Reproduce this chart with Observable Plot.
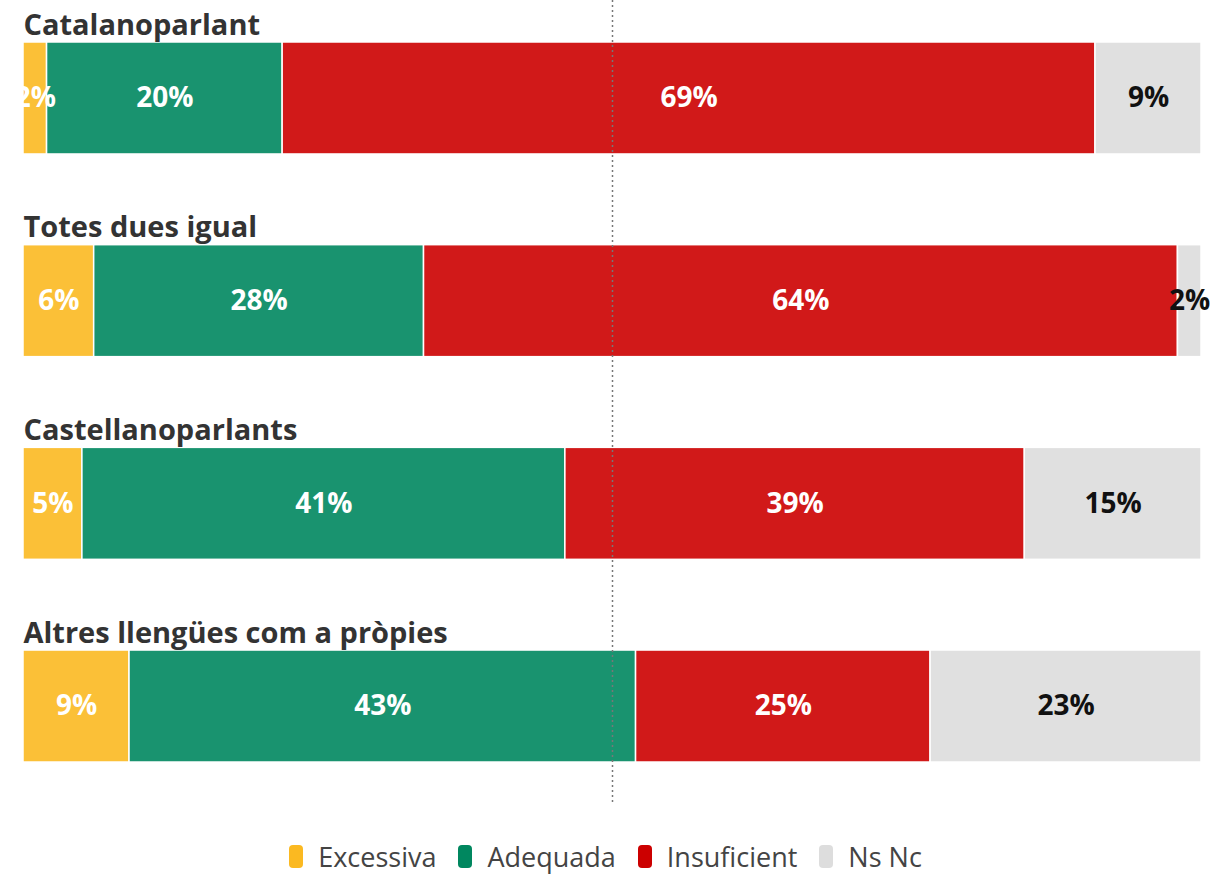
<!DOCTYPE html>
<html>
<head>
<meta charset="utf-8">
<script src="https://cdn.jsdelivr.net/npm/d3@7"></script>
<script src="https://cdn.jsdelivr.net/npm/@observablehq/plot@0.6"></script>
<style>
  html, body { margin: 0; padding: 0; background: #fff; }
  body { width: 1211px; height: 874px; overflow: hidden; font-family: "Open Sans", Lato, sans-serif; }
  #legend { display: flex; justify-content: center; align-items: center; gap: 22px; margin-top: 32px; padding-left: 0; font-size: 27px; color: #444; }
  .item { display: flex; align-items: center; gap: 15px; }
  .sw { width: 14px; height: 23px; border-radius: 4px; display: inline-block; }
</style>
</head>
<body>
<div id="chart"></div>
<div id="legend"></div>
<script>
const groups = ["Catalanoparlant", "Totes dues igual", "Castellanoparlants", "Altres llengües com a pròpies"];
const categories = ["Excessiva", "Adequada", "Insuficient", "Ns Nc"];
const colors = ["#fbb921", "#00875f", "#cc0000", "#dddddd"];
const excessiva = [2, 6, 5, 9];
const adequada = [20, 28, 41, 43];
const insuficient = [69, 64, 39, 25];
const nsnc = [9, 2, 15, 23];
const series = [excessiva, adequada, insuficient, nsnc];

const data = [];
groups.forEach((g, i) => {
  let x0 = 0;
  categories.forEach((c, j) => {
    const v = series[j][i];
    data.push({group: g, cat: c, value: v, x1: x0, x2: x0 + v, mid: x0 + v / 2});
    x0 += v;
  });
});

const chart = Plot.plot({
  width: 1211,
  height: 806,
  marginLeft: 23,
  marginRight: 10,
  marginTop: 0,
  marginBottom: 2,
  style: {fontFamily: "'Open Sans', Lato, sans-serif", background: "white"},
  x: {domain: [0, 100], axis: null},
  y: {domain: groups, axis: null, paddingInner: 0.4475, paddingOuter: 0.2072, round: false},
  color: {domain: categories, range: colors},
  marks: [
    Plot.barX(data, {x1: "x1", x2: "x2", y: "group", fill: "cat", fillOpacity: 0.9, stroke: "white", strokeWidth: 1.5}),
    Plot.text(data, {x: "mid", y: "group", text: d => d.value + "%", fill: d => d.cat === "Ns Nc" ? "#111" : "white", fontSize: 28, fontWeight: "bold"}),
    Plot.text(groups, {x: 0, y: d => d, text: d => d, textAnchor: "start", dy: -73, fontSize: 29, fontWeight: "bold", fill: "#333"}),
    Plot.ruleX([50], {stroke: "#777", strokeWidth: 1.5, strokeDasharray: "2,3"})
  ]
});
document.getElementById("chart").appendChild(chart);

const legend = document.getElementById("legend");
categories.forEach((c, j) => {
  const item = document.createElement("div");
  item.className = "item";
  const sw = document.createElement("span");
  sw.className = "sw";
  sw.style.background = colors[j];
  const t = document.createElement("span");
  t.textContent = c;
  item.appendChild(sw);
  item.appendChild(t);
  legend.appendChild(item);
});
</script>
</body>
</html>
